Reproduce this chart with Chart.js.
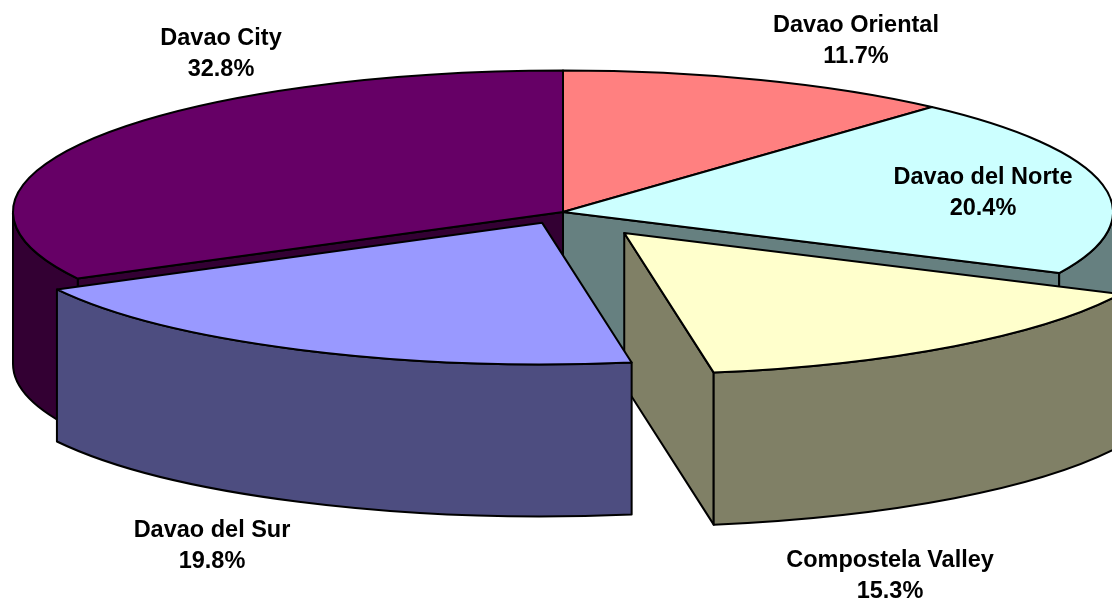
<!DOCTYPE html>
<html><head><meta charset="utf-8">
<script src="https://cdn.jsdelivr.net/npm/chart.js@4.4.1/dist/chart.umd.min.js"></script>
<style>html,body{margin:0;padding:0;background:#fff;overflow:hidden}#wrap{width:1112px;height:601px;position:relative}</style>
</head><body><div id="wrap"><canvas id="c" width="1112" height="601"></canvas></div>
<script>
// ---- data ----
const categories = ['Davao Oriental', 'Davao del Norte', 'Compostela Valley', 'Davao del Sur', 'Davao City'];
const shares = [11.7, 20.4, 15.3, 19.8, 32.8];

// ---- styles ----
const sliceColors = ['#FF8080', '#CCFFFF', '#FFFFCC', '#9999FF', '#660066'];
const explodeOffsets = [0, 0, 102, 47, 0];
const labelAnchors = [[856, 32], [983, 184], [890, 567], [212, 537], [221, 45]];

function shade(hex, k) {
  const h = hex.replace('#', '');
  const r = parseInt(h.slice(0, 2), 16), g = parseInt(h.slice(2, 4), 16), b = parseInt(h.slice(4, 6), 16);
  return 'rgb(' + Math.round(r * k) + ',' + Math.round(g * k) + ',' + Math.round(b * k) + ')';
}

const pie3d = {
  id: 'pie3d',
  beforeDatasetsDraw(chart, args, opts) {
    const meta = chart.getDatasetMeta(0);
    const ctx = chart.ctx;
    const arcs = meta.data;
    const n = arcs.length;
    const items = arcs.map((arc, i) => {
      const p = arc.getProps(['x', 'y', 'startAngle', 'endAngle', 'outerRadius'], true);
      const off = arc.options.offset || 0;
      const mid = (p.startAngle + p.endAngle) / 2;
      const rx = p.outerRadius, ry = rx * opts.tilt;
      return {
        i, rx, ry, mid, off,
        cx: p.x + Math.cos(mid) * off,
        cy: p.y + Math.sin(mid) * off * opts.tilt,
        s: p.startAngle, e: p.endAngle,
        color: arc.options.backgroundColor
      };
    });
    const D = items[0].rx * opts.depth;
    const order = items.slice().sort((a, b) => Math.sin(a.mid) - Math.sin(b.mid));
    ctx.save();
    ctx.lineWidth = opts.lineWidth;
    ctx.strokeStyle = opts.edge;
    ctx.lineJoin = 'round';
    for (const it of order) {
      const prev = items[(it.i - 1 + n) % n], next = items[(it.i + 1) % n];
      const wall = shade(it.color, 0.5);
      const px = t => it.cx + it.rx * Math.cos(t);
      const py = t => it.cy + it.ry * Math.sin(t);
      const face = phi => {
        ctx.beginPath();
        ctx.moveTo(it.cx, it.cy);
        ctx.lineTo(px(phi), py(phi));
        ctx.lineTo(px(phi), py(phi) + D);
        ctx.lineTo(it.cx, it.cy + D);
        ctx.closePath();
        ctx.fillStyle = wall; ctx.fill(); ctx.stroke();
      };
      if (Math.cos(it.s) < -1e-6 && (it.off || prev.off)) face(it.s);
      if (Math.cos(it.e) > 1e-6 && (it.off || next.off)) face(it.e);
      const a = Math.max(it.s, 0), b = Math.min(it.e, Math.PI);
      if (b > a) {
        ctx.beginPath();
        ctx.ellipse(it.cx, it.cy, it.rx, it.ry, 0, a, b, false);
        ctx.lineTo(px(b), py(b) + D);
        ctx.ellipse(it.cx, it.cy + D, it.rx, it.ry, 0, b, a, true);
        ctx.closePath();
        ctx.fillStyle = wall; ctx.fill(); ctx.stroke();
      }
      ctx.beginPath();
      ctx.moveTo(it.cx, it.cy);
      ctx.ellipse(it.cx, it.cy, it.rx, it.ry, 0, it.s, it.e, false);
      ctx.closePath();
      ctx.fillStyle = it.color; ctx.fill(); ctx.stroke();
    }
    ctx.restore();
    return false;
  },
  afterDraw(chart, args, opts) {
    const ctx = chart.ctx;
    const data = chart.data.datasets[0].data;
    ctx.save();
    ctx.fillStyle = '#000';
    ctx.font = opts.font;
    ctx.textAlign = 'center';
    ctx.textBaseline = 'alphabetic';
    chart.data.labels.forEach((lab, i) => {
      const [x, y] = opts.anchors[i];
      ctx.fillText(lab, x, y);
      ctx.fillText(data[i].toFixed(1) + '%', x, y + opts.lineGap);
    });
    ctx.restore();
  }
};

new Chart(document.getElementById('c'), {
  type: 'pie',
  data: {
    labels: categories,
    datasets: [{
      data: shares,
      backgroundColor: sliceColors,
      offset: explodeOffsets,
      borderWidth: 0
    }]
  },
  options: {
    responsive: false,
    animation: false,
    devicePixelRatio: 1,
    events: [],
    radius: 550,
    layout: { padding: { left: 14, right: 0, top: 0, bottom: 177 } },
    plugins: {
      legend: { display: false },
      tooltip: { enabled: false },
      pie3d: {
        tilt: 0.2573, depth: 0.2764, lineWidth: 2, edge: '#000',
        font: 'bold 23.5px "Liberation Sans", Arial, sans-serif',
        anchors: labelAnchors, lineGap: 31
      }
    }
  },
  plugins: [pie3d]
});
</script>
</body></html>
